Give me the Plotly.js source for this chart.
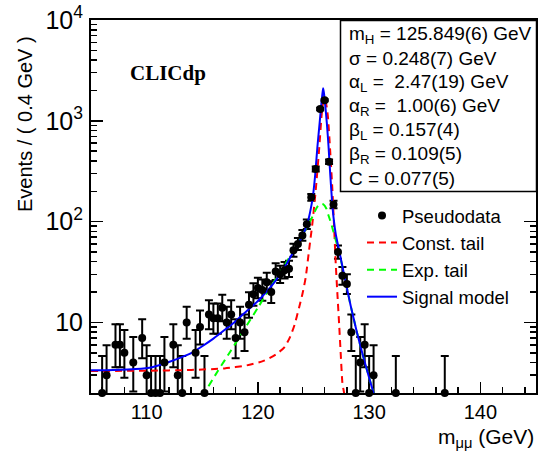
<!DOCTYPE html>
<html>
<head>
<meta charset="utf-8">
<script src="https://cdn.plot.ly/plotly-3.0.1.min.js"></script>
<style>html,body{margin:0;padding:0;background:#fff;}#plot{width:538px;height:457px;}</style>
</head>
<body>
<div id="plot"></div>
<script>
// Pseudodata: bin centres (GeV) and counts per 0.4 GeV bin
const binCenters = [106.0, 106.4, 107.2, 107.6, 108.0, 108.8, 109.6, 110.0, 110.4, 110.8,
  111.2, 111.6, 112.4, 112.8, 113.2, 113.6, 114.4, 114.8, 115.2, 115.6,
  116.0, 116.4, 116.8, 117.2, 117.6, 118.0, 118.4, 118.8, 119.2, 119.6,
  120.0, 120.4, 120.8, 121.2, 121.6, 122.0, 122.4, 122.8, 123.2, 123.6,
  124.0, 124.4, 124.8, 125.2, 125.6, 126.0, 126.4, 126.8, 127.2, 127.6,
  128.0, 128.4, 128.8, 129.2, 129.6, 130.0, 130.4, 132.4, 136.8];
const counts = [2, 3, 6, 6, 5, 4, 7, 3, 2, 2,
  2, 4, 6, 3, 2, 10, 5, 9, 2, 12,
  11, 11, 14, 10, 12, 7, 10, 8, 15, 19,
  22, 21, 25, 20, 32, 30, 33, 34, 52, 60,
  73, 94, 174, 332, 1310, 1600, 392, 148, 50, 29,
  24, 8, 2, 4, 6, 2, 3, 2, 2];

// Curves
const constTailX = [105, 110, 114, 117, 119, 120.5, 121.6, 122.4, 122.9, 123.3, 123.7, 124.0, 124.3, 124.6, 124.9, 125.2, 125.5, 125.75, 125.95, 126.15, 126.3, 126.5, 126.7, 126.85, 127.0, 127.15, 127.3, 127.45, 127.6, 127.75, 127.9];
const constTailY = [3.3, 3.32, 3.38, 3.5, 3.75, 4.15, 4.8, 5.7, 7.2, 9.5, 14, 19, 28, 52, 96, 205, 510, 1200, 1700, 1450, 1090, 500, 205, 90, 38, 19, 9.8, 4.8, 2.5, 2.0, 1.5];

const expTailX = [115.0, 115.2, 116.4, 117.6, 118.8, 120.0, 121.2, 122.4, 123.6, 124.4, 124.8, 125.1, 125.4, 125.65, 125.9, 126.15, 126.35, 126.6, 126.85, 127.3, 127.8, 128.35, 128.9, 129.4, 129.9, 130.4, 130.6];
const expTailY = [1.85, 2.0, 3.3, 5.3, 8.6, 14, 23, 37, 61, 88, 106, 125, 143, 150, 148, 135, 115, 95, 75, 50, 28, 14.5, 8.0, 4.9, 3.1, 2.0, 1.7];

const signalX = [105, 107, 109, 110.5, 112, 113, 114, 115, 116, 117, 118, 119, 120, 121, 121.6, 122.2, 122.8, 123.4, 124.0, 124.4, 124.7, 124.95, 125.15, 125.35, 125.55, 125.7, 125.8, 125.87, 125.95, 126.05, 126.2, 126.35, 126.5, 126.65, 126.8, 127.0, 127.3, 127.8, 128.35, 128.9, 129.4, 129.9, 130.4, 130.7];
const signalY = [3.35, 3.38, 3.45, 3.6, 4.05, 4.45, 4.95, 5.8, 6.9, 8.4, 10.3, 13.0, 16.3, 21.5, 26, 32, 42, 55, 72, 92, 125, 180, 290, 550, 950, 1450, 1850, 2100, 1850, 1450, 950, 560, 300, 170, 110, 75, 52, 28, 14.5, 8.0, 4.9, 3.1, 2.0, 1.6];

// Tick labels
const yTickVals = [10, 100, 1000, 10000];
const yTickText = ['10', '10<sup>2</sup>', '10<sup>3</sup>', '10<sup>4</sup>'];
const yMinorVals = [2,3,4,5,6,7,8,9,20,30,40,50,60,70,80,90,200,300,400,500,600,700,800,900,2000,3000,4000,5000,6000,7000,8000,9000];
const xTickVals = [110, 120, 130, 140];

const statLines = [
  'm<sub>H</sub> = 125.849(6) GeV',
  '\u03c3 = 0.248(7) GeV',
  '\u03b1<sub>L</sub> =&nbsp; 2.47(19) GeV',
  '\u03b1<sub>R</sub> =&nbsp; 1.00(6) GeV',
  '\u03b2<sub>L</sub> = 0.157(4)',
  '\u03b2<sub>R</sub> = 0.109(5)',
  'C = 0.077(5)'
];

// Poisson (68%) asymmetric error bars from the counts
const errUp = counts.map(n => 1 + Math.sqrt(n + 0.75));
const errDown = counts.map(n => Math.sqrt(n - 0.25));

const FONT = 'Liberation Sans, Arial, sans-serif';
const dash = '7px,5px';

const traces = [
  {x: binCenters, y: counts, type: 'scatter', mode: 'markers',
   marker: {color: 'rgba(0,0,0,0)', size: 1},
   error_y: {type: 'data', symmetric: false, array: errUp, arrayminus: errDown, color: '#000', thickness: 2, width: 4},
   showlegend: false, hoverinfo: 'skip', cliponaxis: true},
  {x: constTailX, y: constTailY, type: 'scatter', mode: 'lines', name: 'Const. tail',
   line: {color: '#ff0000', width: 2, dash: dash, shape: 'spline', smoothing: 0.6}, legendrank: 2},
  {x: expTailX, y: expTailY, type: 'scatter', mode: 'lines', name: 'Exp. tail',
   line: {color: '#00ff00', width: 2, dash: dash, shape: 'spline', smoothing: 0.6}, legendrank: 3},
  {x: signalX, y: signalY, type: 'scatter', mode: 'lines', name: 'Signal model',
   line: {color: '#0000ff', width: 2, shape: 'spline', smoothing: 0.6}, legendrank: 4},
  {x: binCenters, y: counts, type: 'scatter', mode: 'markers', name: 'Pseudodata',
   marker: {color: '#000', size: 8}, cliponaxis: false, legendrank: 1}
];

const L = 91, T = 20, W = 445, H = 373;
const px = v => (v - L) / W;
const py = v => (T + H - v) / H;

const annotations = [
  {text: 'Events / ( 0.4 GeV )', xref: 'paper', yref: 'paper', x: px(25), y: py(124), textangle: -90,
   showarrow: false, xanchor: 'center', yanchor: 'middle', font: {family: FONT, size: 20, color: '#000'}},
  {text: 'm<sub>\u03bc\u03bc</sub> (GeV)', xref: 'paper', yref: 'paper', x: 1, y: py(438),
   showarrow: false, xanchor: 'right', yanchor: 'middle', font: {family: FONT, size: 21, color: '#000'}},
  {text: '<b>CLICdp</b>', xref: 'paper', yref: 'paper', x: px(168), y: py(73),
   showarrow: false, xanchor: 'center', yanchor: 'middle', font: {family: 'Liberation Serif, Times New Roman, serif', size: 21, color: '#000'}}
];
const lineYs = [35, 59, 83, 107, 131, 155, 179];
statLines.forEach((t, i) => annotations.push({
  text: t, xref: 'paper', yref: 'paper', x: px(347), y: py(lineYs[i]), showarrow: false,
  xanchor: 'left', yanchor: 'middle', font: {family: FONT, size: 19, color: '#000'}
}));

const layout = {
  width: 538, height: 457,
  margin: {l: L, r: 538 - L - W, t: T, b: 457 - T - H, pad: 0},
  paper_bgcolor: '#fff', plot_bgcolor: '#fff',
  showlegend: true,
  legend: {x: px(362), y: py(197), xanchor: 'left', yanchor: 'top', bgcolor: 'rgba(0,0,0,0)',
           font: {family: FONT, size: 18.5, color: '#000'}, tracegroupgap: 0, itemwidth: 30},
  xaxis: {range: [105, 145], showgrid: false, zeroline: false, showline: true, linecolor: '#000', linewidth: 2,
          mirror: true, ticks: 'inside', ticklen: 11, tickwidth: 1.5, tickcolor: '#000',
          tickvals: xTickVals, ticktext: xTickVals.map(String), ticklabelstandoff: 0,
          tickfont: {family: FONT, size: 20, color: '#000'}, layer: 'below traces',
          minor: {dtick: 2, tick0: 0, ticks: 'inside', ticklen: 6, tickwidth: 1.5, tickcolor: '#000', showgrid: false}},
  yaxis: {type: 'log', range: [0.3, 4], showgrid: false, zeroline: false, showline: true, linecolor: '#000', linewidth: 2,
          mirror: 'ticks', ticks: 'inside', ticklen: 12, tickwidth: 1.5, tickcolor: '#000',
          tickmode: 'array', tickvals: yTickVals, ticktext: yTickText, ticklabelstandoff: 1,
          tickfont: {family: FONT, size: 25, color: '#000'}, layer: 'below traces',
          minor: {tickmode: 'array', tickvals: yMinorVals, ticks: 'inside', ticklen: 6, tickwidth: 1.5, tickcolor: '#000', showgrid: false}},
  shapes: [
    {type: 'rect', xref: 'paper', yref: 'paper', x0: px(340.5), x1: px(536.5), y0: py(191.5), y1: py(20.5),
     line: {color: '#000', width: 1.5}, fillcolor: '#fff', layer: 'above'}
  ],
  annotations: annotations
};

Plotly.newPlot('plot', traces, layout, {displayModeBar: false, staticPlot: true});
</script>
</body>
</html>
